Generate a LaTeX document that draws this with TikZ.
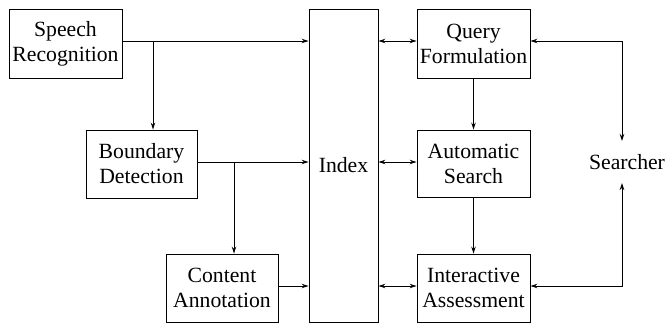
\documentclass[tikz,border=0pt]{standalone}
\usepackage{fontspec}
\setmainfont{Liberation Serif}
\usetikzlibrary{arrows.meta}

\tikzset{
  block/.style={draw,align=center,inner sep=0pt,minimum width=113pt,minimum height=69pt},
  link/.style={-{Stealth[length=7pt,width=4.5pt]}},
  duplex/.style={{Stealth[length=7pt,width=4.5pt]}-{Stealth[length=7pt,width=4.5pt]}}
}

\begin{document}
\begin{tikzpicture}[x=1pt,y=-1pt,line width=.9pt,font=\fontsize{21.7}{25}\selectfont]
 \useasboundingbox (0,0) rectangle (669,324);
 % left column: producers of the index
 \node[block] (speech) at (65.5,43.5) {Speech\\Recognition};
 \node[block,minimum width=111pt,minimum height=68pt] (boundary) at (141.5,164) {Boundary\\Detection};
 \node[block,minimum width=112pt,minimum height=68pt] (content) at (222,288) {Content\\Annotation};
 \node[draw,minimum width=69pt,minimum height=313pt] (index) at (343.5,165.5) {Index};
 % right column: search side
 \node[block] (query) at (473.5,43.5) {Query\\Formulation};
 \node[block,minimum height=67pt] (auto) at (473.5,163.5) {Automatic\\Search};
 \node[block,minimum height=68pt] (inter) at (473.5,288) {Interactive\\Assessment};
 \node[inner xsep=0pt,inner ysep=12pt] (searcher) at (627,162) {Searcher};
 % row heights and branch points
 \coordinate (split1) at (153,41);
 \coordinate (split2) at (234,162);
 \coordinate (row3) at (0,286);
 \coordinate (top) at (622,141);
 \coordinate (bot) at (622,183);

 \draw[link] (split1 -| speech.east) -- (index.west |- split1);
 \draw[link] (split1) -- (split1 |- boundary.north);
 \draw[link] (split2 -| boundary.east) -- (index.west |- split2);
 \draw[link] (split2) -- (split2 |- content.north);
 \draw[link] (row3 -| content.east) -- (index.west |- row3);

 \draw[duplex] (index.east |- split1) -- (query.west |- split1);
 \draw[duplex] (index.east |- split2) -- (auto.west |- split2);
 \draw[duplex] (index.east |- row3) -- (inter.west |- row3);
 \draw[link] (query) -- (auto);
 \draw[link] (auto) -- (inter);
 \draw[duplex] (query.east |- split1) -| (top);
 \draw[duplex] (inter.east |- row3) -| (bot);
\end{tikzpicture}
\end{document}
